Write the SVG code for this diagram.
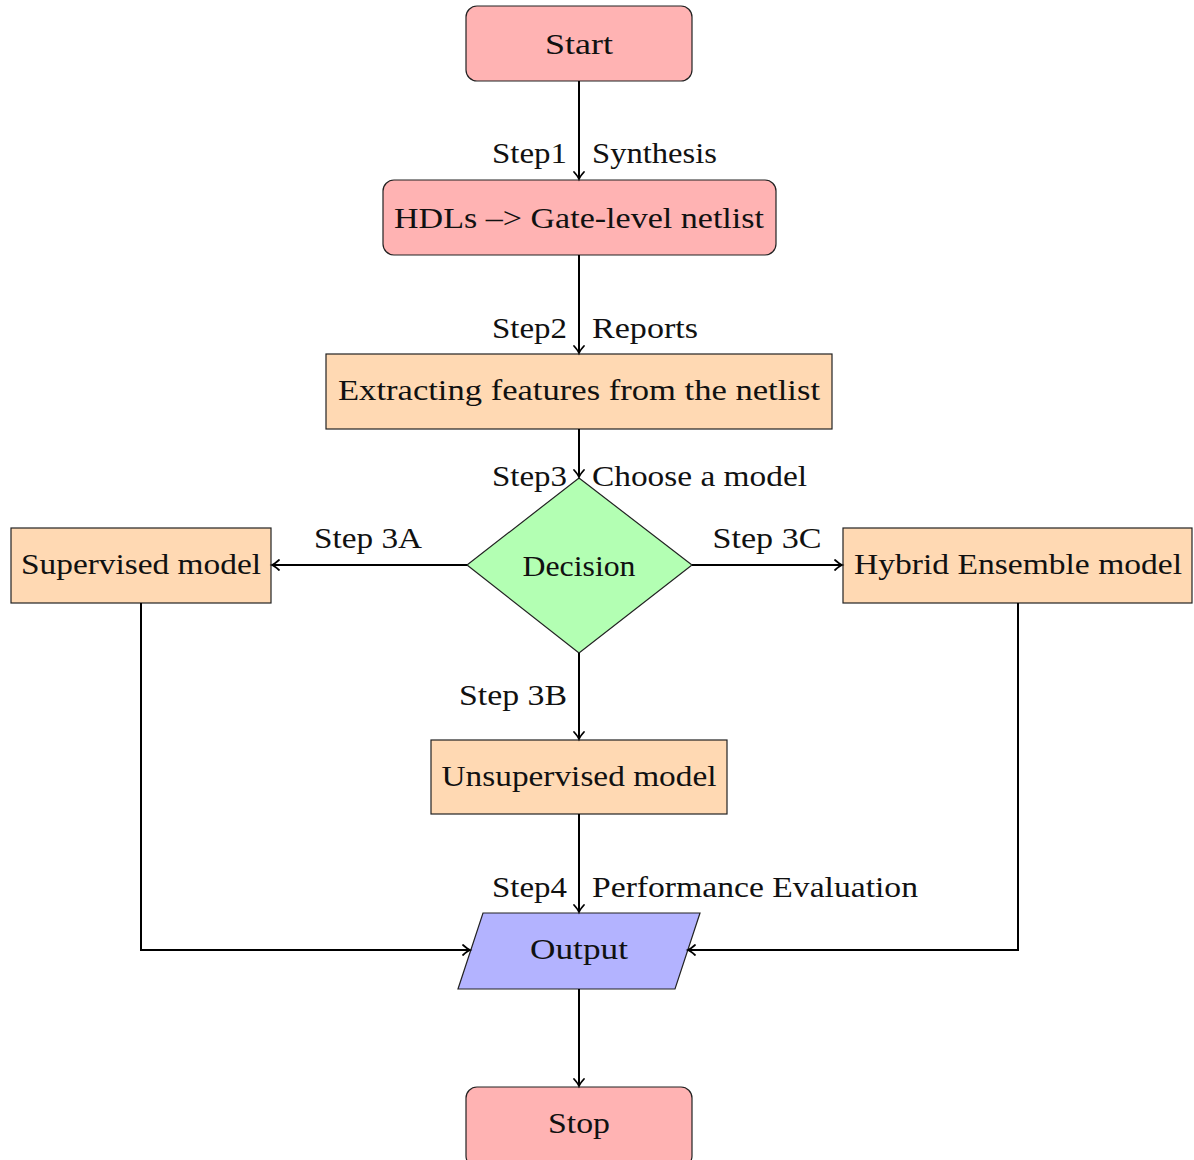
<svg xmlns="http://www.w3.org/2000/svg" width="1194" height="1160" viewBox="0 0 1194 1160">
<defs>
<marker id="arr" markerUnits="userSpaceOnUse" markerWidth="16" markerHeight="16" viewBox="-10 -8 12 16" refX="0" refY="0" orient="auto">
<path d="M -7 -5 Q -2.5 -1 0 0 Q -2.5 1 -7 5" fill="none" stroke="#000" stroke-width="1.8" stroke-linecap="round"/>
</marker>
<style>
.red{fill:#ffb3b3;stroke:#222;stroke-width:1.2}
.org{fill:#ffd9b3;stroke:#222;stroke-width:1.2}
.grn{fill:#b3ffb3;stroke:#222;stroke-width:1.2}
.blu{fill:#b3b3ff;stroke:#222;stroke-width:1.2}
text{font-family:"Liberation Serif","DejaVu Serif",serif;font-size:30px;fill:#111}
.c{text-anchor:middle}
.r{text-anchor:end}
.e{fill:none;stroke:#000;stroke-width:2;marker-end:url(#arr)}
</style>
</defs>
<g id="start"><rect class="red" x="466" y="6" width="226" height="75" rx="11"/><text class="c" x="579" y="54" textLength="68" lengthAdjust="spacingAndGlyphs">Start</text></g>
<g id="hdl"><rect class="red" x="383" y="180" width="393" height="75" rx="11"/><text class="c" x="579" y="228" textLength="370" lengthAdjust="spacingAndGlyphs">HDLs –&gt; Gate-level netlist</text></g>
<g id="extract"><rect class="org" x="326" y="354" width="506" height="75"/><text class="c" x="579" y="400" textLength="482" lengthAdjust="spacingAndGlyphs">Extracting features from the netlist</text></g>
<g id="decision"><polygon class="grn" points="579,478 692,565 579,653 467,565"/><text class="c" x="579" y="576" textLength="113" lengthAdjust="spacingAndGlyphs">Decision</text></g>
<g id="supervised"><rect class="org" x="11" y="528" width="260" height="75"/><text class="c" x="141" y="574" textLength="240" lengthAdjust="spacingAndGlyphs">Supervised model</text></g>
<g id="hybrid"><rect class="org" x="843" y="528" width="349" height="75"/><text class="c" x="1018" y="574" textLength="328" lengthAdjust="spacingAndGlyphs">Hybrid Ensemble model</text></g>
<g id="unsupervised"><rect class="org" x="431" y="740" width="296" height="74"/><text class="c" x="579" y="786" textLength="275" lengthAdjust="spacingAndGlyphs">Unsupervised model</text></g>
<g id="output"><polygon class="blu" points="483,913 700,913 675,989 458,989"/><text class="c" x="579" y="959" textLength="98" lengthAdjust="spacingAndGlyphs">Output</text></g>
<g id="stop"><rect class="red" x="466" y="1087" width="226" height="80" rx="11"/><text class="c" x="579" y="1133" textLength="62" lengthAdjust="spacingAndGlyphs">Stop</text></g>
<g id="connectors">
<line class="e" x1="579" y1="81" x2="579" y2="179"/>
<line class="e" x1="579" y1="255" x2="579" y2="353"/>
<line class="e" x1="579" y1="429" x2="579" y2="477"/>
<line class="e" x1="467" y1="565" x2="272" y2="565"/>
<line class="e" x1="692" y1="565" x2="842" y2="565"/>
<line class="e" x1="579" y1="653" x2="579" y2="739"/>
<line class="e" x1="579" y1="814" x2="579" y2="912"/>
<polyline class="e" points="141,603 141,950 470,950"/>
<polyline class="e" points="1018,603 1018,950 688,950"/>
<line class="e" x1="579" y1="989" x2="579" y2="1086"/>
<text class="r" x="567" y="163" textLength="75" lengthAdjust="spacingAndGlyphs">Step1</text><text x="592" y="163" textLength="125" lengthAdjust="spacingAndGlyphs">Synthesis</text>
<text class="r" x="567" y="338" textLength="75" lengthAdjust="spacingAndGlyphs">Step2</text><text x="592" y="338" textLength="106" lengthAdjust="spacingAndGlyphs">Reports</text>
<text class="r" x="567" y="486" textLength="75" lengthAdjust="spacingAndGlyphs">Step3</text><text x="592" y="486" textLength="215" lengthAdjust="spacingAndGlyphs">Choose a model</text>
<text class="c" x="368" y="548" textLength="108" lengthAdjust="spacingAndGlyphs">Step 3A</text>
<text class="c" x="767" y="548" textLength="109" lengthAdjust="spacingAndGlyphs">Step 3C</text>
<text class="r" x="567" y="705" textLength="108" lengthAdjust="spacingAndGlyphs">Step 3B</text>
<text class="r" x="567" y="897" textLength="75" lengthAdjust="spacingAndGlyphs">Step4</text><text x="592" y="897" textLength="326" lengthAdjust="spacingAndGlyphs">Performance Evaluation</text>
</g>
</svg>
